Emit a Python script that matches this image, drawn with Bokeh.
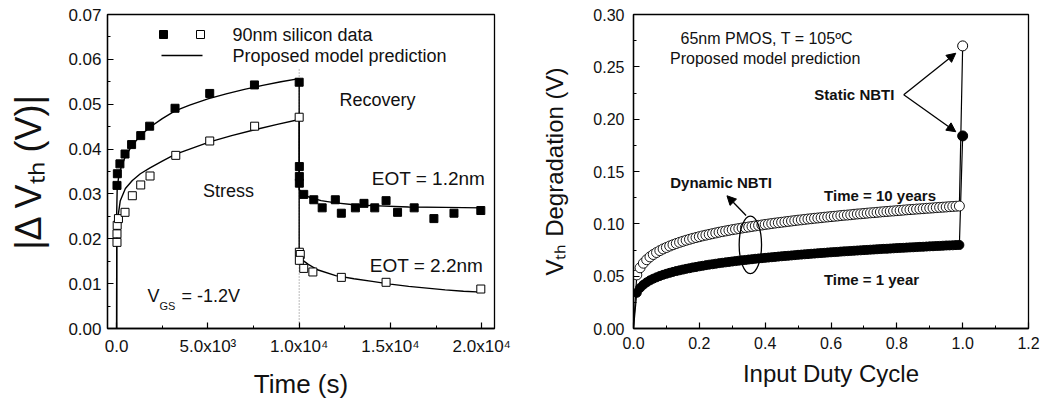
import math
from bokeh.plotting import figure
from bokeh.models import Range1d, FixedTicker, Label, Arrow, NormalHead, NumeralTickFormatter
from bokeh.layouts import row
from bokeh.embed import file_html
from bokeh.resources import INLINE

FONT = "Liberation Sans"

# ---------------- Left chart data (90nm silicon, |dVth| vs time) ----------------
switch_time = 10000
stress_t_eot12 = [20, 40, 180, 460, 820, 1320, 1810, 3200, 5100, 7550, 10000]
stress_v_eot12 = [0.0319, 0.0345, 0.0367, 0.0389, 0.0410, 0.0430, 0.0451, 0.0491, 0.0524, 0.0543, 0.0549]
stress_t_eot22 = [20, 20, 30, 100, 460, 860, 1320, 1830, 3240, 5100, 7560, 10000]
stress_v_eot22 = [0.0192, 0.0211, 0.0230, 0.0245, 0.0259, 0.0296, 0.0320, 0.0340, 0.0386, 0.0418, 0.0451, 0.0471]
rec_t_eot12 = [10010, 10010, 10010, 10250, 10800, 11260, 11980, 12310, 13080, 13550, 14140,
               14760, 15390, 16300, 17380, 18480, 19950]
rec_v_eot12 = [0.0361, 0.0339, 0.0324, 0.0299, 0.0287, 0.0269, 0.0287, 0.0257, 0.0269, 0.0279, 0.0269,
               0.0285, 0.0259, 0.0269, 0.0245, 0.0257, 0.0263]
rec_t_eot22 = [10010, 10060, 10010, 10250, 10750, 12310, 14760, 19950]
rec_v_eot22 = [0.0170, 0.0165, 0.0152, 0.0134, 0.0126, 0.0114, 0.0103, 0.0088]

model_t_eot12 = [0, 5, 30, 100, 250, 500, 850, 1300, 1800, 2500, 3200, 4000, 5000, 6000, 7000, 8000,
                 9000, 10000, 10000, 10200, 10600, 11200, 12000, 13000, 14000, 16000, 18000, 20000]
model_v_eot12 = [0.0, 0.026, 0.031, 0.0335, 0.0360, 0.0385, 0.0408, 0.0430, 0.0448, 0.0468, 0.0485,
                 0.0498, 0.0512, 0.0523, 0.0533, 0.0542, 0.0550, 0.0557, 0.0310, 0.0300, 0.0292,
                 0.0285, 0.0280, 0.0276, 0.0274, 0.0271, 0.0270, 0.0269]
model_t_eot22 = [0, 5, 20, 60, 200, 480, 860, 1300, 1830, 2500, 3200, 4000, 5100, 6300, 7560, 8800,
                 10000, 10000, 10200, 10500, 11000, 12000, 13000, 14000, 15000, 16000, 17000, 18000,
                 19000, 20000]
model_v_eot22 = [0.0, 0.018, 0.0215, 0.0245, 0.0285, 0.0312, 0.0330, 0.0345, 0.0358, 0.0373, 0.0388,
                 0.0400, 0.0416, 0.0430, 0.0443, 0.0455, 0.0466, 0.0163, 0.0152, 0.0143, 0.0131,
                 0.0118, 0.0111, 0.0105, 0.0099, 0.0094, 0.0090, 0.0086, 0.0083, 0.0081]

left_xticks = [0, 5000, 10000, 15000, 20000]
left_xtick_labels = ["0.0", "5.0x10\u00b3", "1.0x10\u2074", "1.5x10\u2074", "2.0x10\u2074"]
left_xminor = [2500, 7500, 12500, 17500]
left_yticks = [0.0, 0.01, 0.02, 0.03, 0.04, 0.05, 0.06, 0.07]
left_yminor = [0.005, 0.015, 0.025, 0.035, 0.045, 0.055, 0.065]

# ---------------- Right chart data (65nm PMOS, Vth degradation vs duty cycle) ----------------
duty_cycle = [0.01, 0.02, 0.03, 0.04, 0.05, 0.06, 0.07, 0.08, 0.09, 0.10,
              0.11, 0.12, 0.13, 0.14, 0.15, 0.16, 0.17, 0.18, 0.19, 0.20,
              0.21, 0.22, 0.23, 0.24, 0.25, 0.26, 0.27, 0.28, 0.29, 0.30,
              0.31, 0.32, 0.33, 0.34, 0.35, 0.36, 0.37, 0.38, 0.39, 0.40,
              0.41, 0.42, 0.43, 0.44, 0.45, 0.46, 0.47, 0.48, 0.49, 0.50,
              0.51, 0.52, 0.53, 0.54, 0.55, 0.56, 0.57, 0.58, 0.59, 0.60,
              0.61, 0.62, 0.63, 0.64, 0.65, 0.66, 0.67, 0.68, 0.69, 0.70,
              0.71, 0.72, 0.73, 0.74, 0.75, 0.76, 0.77, 0.78, 0.79, 0.80,
              0.81, 0.82, 0.83, 0.84, 0.85, 0.86, 0.87, 0.88, 0.89, 0.90,
              0.91, 0.92, 0.93, 0.94, 0.95, 0.96, 0.97, 0.98, 0.99]
dvth_10_years = [0.0512, 0.0580, 0.0624, 0.0657, 0.0684, 0.0707, 0.0726, 0.0744, 0.0760, 0.0774,
                 0.0788, 0.0800, 0.0812, 0.0823, 0.0833, 0.0843, 0.0852, 0.0861, 0.0869, 0.0877,
                 0.0885, 0.0892, 0.0899, 0.0906, 0.0913, 0.0920, 0.0926, 0.0932, 0.0938, 0.0944,
                 0.0949, 0.0955, 0.0960, 0.0965, 0.0970, 0.0975, 0.0980, 0.0985, 0.0989, 0.0994,
                 0.0998, 0.1003, 0.1007, 0.1011, 0.1015, 0.1019, 0.1023, 0.1027, 0.1031, 0.1035,
                 0.1038, 0.1042, 0.1046, 0.1049, 0.1053, 0.1056, 0.1059, 0.1063, 0.1066, 0.1069,
                 0.1072, 0.1075, 0.1079, 0.1082, 0.1084, 0.1087, 0.1091, 0.1094, 0.1096, 0.1099,
                 0.1102, 0.1105, 0.1107, 0.1110, 0.1113, 0.1116, 0.1118, 0.1121, 0.1123, 0.1126,
                 0.1128, 0.1131, 0.1134, 0.1136, 0.1138, 0.1141, 0.1143, 0.1145, 0.1148, 0.1150,
                 0.1152, 0.1155, 0.1157, 0.1159, 0.1161, 0.1164, 0.1166, 0.1168, 0.1170]
dvth_1_year = [0.0341, 0.0388, 0.0418, 0.0441, 0.0460, 0.0476, 0.0489, 0.0502, 0.0513, 0.0523,
               0.0532, 0.0541, 0.0549, 0.0556, 0.0563, 0.0570, 0.0576, 0.0583, 0.0588, 0.0594,
               0.0599, 0.0605, 0.0610, 0.0614, 0.0619, 0.0624, 0.0628, 0.0632, 0.0636, 0.0640,
               0.0644, 0.0648, 0.0652, 0.0655, 0.0659, 0.0662, 0.0666, 0.0669, 0.0672, 0.0675,
               0.0678, 0.0681, 0.0684, 0.0687, 0.0690, 0.0693, 0.0695, 0.0698, 0.0701, 0.0704,
               0.0706, 0.0709, 0.0711, 0.0714, 0.0716, 0.0719, 0.0721, 0.0723, 0.0726, 0.0728,
               0.0730, 0.0732, 0.0735, 0.0737, 0.0739, 0.0741, 0.0743, 0.0745, 0.0747, 0.0749,
               0.0751, 0.0753, 0.0755, 0.0757, 0.0759, 0.0761, 0.0762, 0.0764, 0.0766, 0.0768,
               0.0770, 0.0771, 0.0773, 0.0775, 0.0776, 0.0778, 0.0780, 0.0781, 0.0783, 0.0785,
               0.0786, 0.0788, 0.0789, 0.0791, 0.0793, 0.0794, 0.0795, 0.0797, 0.0798]
static_duty = [1.0]
static_10_years = [0.270]
static_1_year = [0.184]

right_xticks = [0.0, 0.2, 0.4, 0.6, 0.8, 1.0, 1.2]
right_xminor = [0.1, 0.3, 0.5, 0.7, 0.9, 1.1]
right_yticks = [0.0, 0.05, 0.10, 0.15, 0.20, 0.25, 0.30]
right_yminor = [0.025, 0.075, 0.125, 0.175, 0.225, 0.275]


def style(p, tick_font):
    p.xgrid.visible = False
    p.ygrid.visible = False
    p.outline_line_color = "black"
    p.outline_line_width = 1.3
    p.outline_line_alpha = 1.0
    p.background_fill_color = "white"
    p.border_fill_color = "white"
    for ax in (p.xaxis[0], p.yaxis[0]):
        ax.axis_line_color = "black"
        ax.axis_line_width = 1.3
        ax.major_tick_in = 6
        ax.major_tick_out = 0
        ax.minor_tick_in = 3
        ax.minor_tick_out = 0
        ax.major_tick_line_color = "black"
        ax.minor_tick_line_color = "black"
        ax.major_tick_line_width = 1.2
        ax.minor_tick_line_width = 1.0
        ax.major_label_text_font = FONT
        ax.major_label_text_font_size = tick_font
        ax.major_label_text_color = "#111111"
        ax.axis_label_text_font = FONT
        ax.axis_label_text_font_style = "normal"
        ax.axis_label_text_color = "#111111"


def lab(p, x, y, text, size, align="left", baseline="middle", bold=False):
    p.add_layout(Label(x=x, y=y, text=text, text_font=FONT, text_font_size=size,
                       text_align=align, text_baseline=baseline,
                       text_font_style="bold" if bold else "normal", text_color="#111111"))


# ======================= LEFT FIGURE =======================
L_W, L_H = 520, 402
L_FL, L_FR, L_FT, L_FB = 107, 494, 14, 328
lx0, lx1, ly0, ly1 = -500, 20700, 0.0, 0.07

p1 = figure(width=L_W, height=L_H, output_backend="svg", toolbar_location=None,
            x_range=Range1d(lx0, lx1), y_range=Range1d(ly0, ly1),
            min_border_left=L_FL, min_border_right=L_W - L_FR,
            min_border_top=L_FT, min_border_bottom=L_H - L_FB)
style(p1, "17px")
p1.xaxis.ticker = FixedTicker(ticks=left_xticks, minor_ticks=left_xminor)
p1.xaxis.major_label_overrides = {t: s for t, s in zip(left_xticks, left_xtick_labels)}
p1.yaxis.ticker = FixedTicker(ticks=left_yticks, minor_ticks=left_yminor)
p1.yaxis.formatter = NumeralTickFormatter(format="0.00")
p1.xaxis.axis_label = "Time (s)"
p1.xaxis.axis_label_text_font_size = "26px"
p1.xaxis.major_label_standoff = 8
p1.xaxis.axis_label_standoff = 10
p1.yaxis.major_label_standoff = 6
p1.yaxis.axis_label = "|\u0394 V\u209c\u2095 (V)|"
p1.yaxis.axis_label_text_font_size = "36px"
p1.yaxis.axis_label_standoff = 16


def l_data(sx, sy):
    return (lx0 + (sx - L_FL) * (lx1 - lx0) / (L_FR - L_FL),
            ly0 + (L_FB - sy) * (ly1 - ly0) / (L_FB - L_FT))


# dotted separator at switch time
p1.line([switch_time, switch_time], [0.0, 0.058], line_color="#777777", line_width=1, line_dash="1 2")
# model lines
p1.line(model_t_eot12, model_v_eot12, line_color="black", line_width=1.4)
p1.line(model_t_eot22, model_v_eot22, line_color="black", line_width=1.4)
# data
p1.scatter(stress_t_eot12 + rec_t_eot12, stress_v_eot12 + rec_v_eot12, marker="square", size=8,
           fill_color="black", line_color="black")
p1.scatter(stress_t_eot22 + rec_t_eot22, stress_v_eot22 + rec_v_eot22, marker="square", size=8,
           fill_color="white", line_color="black", line_width=1.0)

# legend (manual)
a = l_data(163, 34); b = l_data(200, 34)
p1.scatter([a[0]], [a[1]], marker="square", size=8, fill_color="black", line_color="black")
p1.scatter([b[0]], [b[1]], marker="square", size=8, fill_color="white", line_color="black")
c = l_data(161, 55); d = l_data(202, 55)
p1.line([c[0], d[0]], [c[1], d[1]], line_color="black", line_width=1.4)
t1 = l_data(232, 34); t2 = l_data(232, 55)
lab(p1, t1[0], t1[1], "90nm silicon data", "18px")
lab(p1, t2[0], t2[1], "Proposed model prediction", "18px")

# annotations
q = l_data(377, 99); lab(p1, q[0], q[1], "Recovery", "18px", align="center")
q = l_data(228, 190); lab(p1, q[0], q[1], "Stress", "18px", align="center")
q = l_data(428, 178); lab(p1, q[0], q[1], "EOT = 1.2nm", "19px", align="center")
q = l_data(426, 265); lab(p1, q[0], q[1], "EOT = 2.2nm", "19px", align="center")
q = l_data(147, 295); lab(p1, q[0], q[1], "V", "18px")
q = l_data(159, 305); lab(p1, q[0], q[1], "GS", "11px")
q = l_data(181, 295); lab(p1, q[0], q[1], "= -1.2V", "18px")

# ======================= RIGHT FIGURE =======================
R_W, R_H = 525, 402
R_FL, R_FR, R_FT, R_FB = 113, 508, 14, 334
rx0, rx1, ry0, ry1 = 0.0, 1.2, 0.0, 0.30

p2 = figure(width=R_W, height=R_H, output_backend="svg", toolbar_location=None,
            x_range=Range1d(rx0, rx1), y_range=Range1d(ry0, ry1),
            min_border_left=R_FL, min_border_right=R_W - R_FR,
            min_border_top=R_FT, min_border_bottom=R_H - R_FB)
style(p2, "16px")
p2.xaxis.ticker = FixedTicker(ticks=right_xticks, minor_ticks=right_xminor)
p2.xaxis.formatter = NumeralTickFormatter(format="0.0")
p2.yaxis.ticker = FixedTicker(ticks=right_yticks, minor_ticks=right_yminor)
p2.yaxis.formatter = NumeralTickFormatter(format="0.00")
p2.xaxis.axis_label = "Input Duty Cycle"
p2.xaxis.axis_label_text_font_size = "24px"
p2.xaxis.major_label_standoff = 8
p2.xaxis.axis_label_standoff = 8
p2.yaxis.major_label_standoff = 9
p2.yaxis.axis_label = "V\u209c\u2095 Degradation (V)"
p2.yaxis.axis_label_text_font_size = "24px"
p2.yaxis.axis_label_standoff = 22

p2.line([0.0] + duty_cycle + static_duty, [0.0] + dvth_10_years + static_10_years,
        line_color="black", line_width=1.2)
p2.line([0.0] + duty_cycle + static_duty, [0.0] + dvth_1_year + static_1_year,
        line_color="black", line_width=1.2)
p2.scatter(duty_cycle, dvth_10_years, marker="circle", size=10, fill_color="white",
           line_color="black", line_width=0.9)
p2.scatter(duty_cycle, dvth_1_year, marker="circle", size=9, fill_color="black", line_color="black")
p2.scatter(static_duty, static_10_years, marker="circle", size=10, fill_color="white",
           line_color="black", line_width=1.0)
p2.scatter(static_duty, static_1_year, marker="circle", size=10, fill_color="black", line_color="black")

p2.ellipse(x=[0.355], y=[0.0799], width=0.068, height=0.0548, fill_color=None,
           line_color="black", line_width=1.3)

lab(p2, 0.405, 0.277, "65nm PMOS, T = 105\u00baC", "16px", align="center")
lab(p2, 0.400, 0.258, "Proposed model prediction", "16px", align="center")
lab(p2, 0.671, 0.2233, "Static NBTI", "15px", align="center", bold=True)
lab(p2, 0.266, 0.1394, "Dynamic NBTI", "15px", align="center", bold=True)
lab(p2, 0.749, 0.1268, "Time = 10 years", "15px", align="center", bold=True)
lab(p2, 0.723, 0.047, "Time = 1 year", "15px", align="center", bold=True)

for (xs, ys, xe, ye) in [(0.821, 0.2233, 0.979, 0.263), (0.821, 0.2233, 0.979, 0.188),
                         (0.342, 0.108, 0.284, 0.1268)]:
    p2.add_layout(Arrow(end=NormalHead(size=9, fill_color="black", line_color="black"),
                        x_start=xs, y_start=ys, x_end=xe, y_end=ye,
                        line_color="black", line_width=1.3))

layout = row(p1, p2)
open("out.html", "w").write(file_html(layout, INLINE))
